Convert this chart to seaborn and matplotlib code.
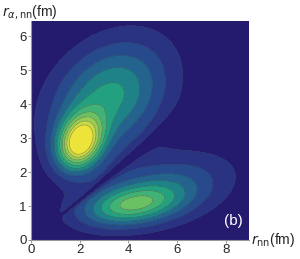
import numpy as np
import matplotlib
matplotlib.use("Agg")
import matplotlib.pyplot as plt
import seaborn as sns

# lobes of the density (centres / widths in fm)
lobe_x = [2.0, 3.2, 4.05, 5.5]
lobe_y = [2.86, 4.2, 1.02, 1.5]
lobe_amp = [0.7, 0.38, 0.38, 0.22]
lobe_sx = [0.64, 1.65, 1.4, 1.9]
lobe_sy = [0.55, 1.15, 0.42, 0.72]
lobe_rho = [0.2, 0.3, 0.3, 0.35]
node_angle = 30.5   # deg, dark gap between the two lobes
node_width = 2.0

x_ticks = [0, 2, 4, 6, 8]
y_ticks = [0, 1, 2, 3, 4, 5, 6]
level_step = 0.08
n_levels = 10

# band colours (Mathematica BlueGreenYellow look), outer to inner
band_anchors = ["#241b6e", "#2a3a87", "#25558f", "#1f7a8c", "#22a07f",
                "#48b672", "#7fc85c", "#b8d84a", "#ece43a"]
band_colors = sns.blend_palette(band_anchors, n_colors=n_levels + 1)

xs = np.linspace(0, 9, 450)
ys = np.linspace(0, 6.5, 330)
X, Y = np.meshgrid(xs, ys)
Z = np.zeros_like(X)
for cx, cy, a, sx, sy, r in zip(lobe_x, lobe_y, lobe_amp, lobe_sx, lobe_sy, lobe_rho):
    dx = (X - cx) / sx
    dy = (Y - cy) / sy
    q = (dx**2 - 2 * r * dx * dy + dy**2) / (1 - r**2)
    Z += a * np.exp(-0.5 * q)
phi = np.degrees(np.arctan2(Y, X))
Z *= 1 - np.exp(-((phi - node_angle) / node_width) ** 2)
Z /= Z.max()

sns.set_theme(style="ticks")
plt.rcParams["font.family"] = ["Liberation Sans", "DejaVu Sans"]

fig = plt.figure(figsize=(3.0, 2.59), dpi=100)
ax = fig.add_axes([31 / 300, 1 - 240 / 259, 218 / 300, 219 / 259])

levels = np.append(np.arange(n_levels + 1) * level_step, 1.001)
ax.contourf(X, Y, Z, levels=levels, colors=band_colors)
ax.contour(X, Y, Z, levels=levels[1:-1], colors="#3a3a55", linewidths=0.4, alpha=0.6)

ax.set_xlim(0, 8.95)
ax.set_ylim(0, 6.45)
ax.set_xticks(x_ticks)
ax.set_yticks(y_ticks)
ax.tick_params(labelsize=9.5, length=2, width=0.6, color="#888888", pad=1)
for s in ["top", "right"]:
    ax.spines[s].set_visible(False)
for s in ["left", "bottom"]:
    ax.spines[s].set_color("#999999")
    ax.spines[s].set_linewidth(0.8)

ax.text(8.3, 0.55, "(b)", color="white", fontsize=11, ha="center", va="center")
fig.text(0.005, 0.955, r"$r_{\alpha,\mathrm{nn}}$(fm)", fontsize=10, ha="left", va="center")
fig.text(0.838, 0.075, r"$r_\mathrm{nn}$(fm)", fontsize=10, ha="left", va="center")

fig.savefig("out.png", dpi=100)
